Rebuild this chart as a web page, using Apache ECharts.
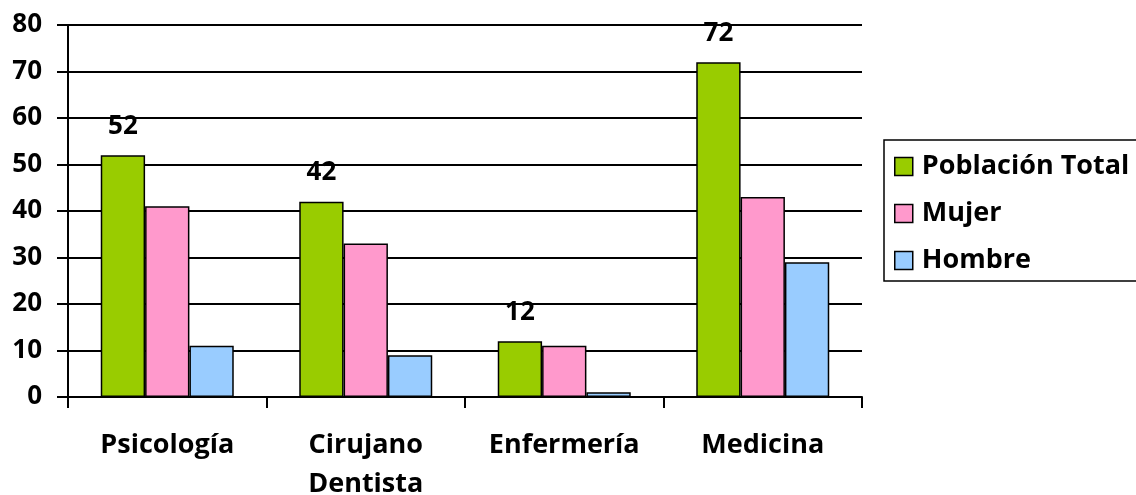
<!DOCTYPE html>
<html>
<head>
<meta charset="utf-8">
<script src="https://cdn.jsdelivr.net/npm/echarts@6/dist/echarts.min.js"></script>
<style>
  html, body { margin: 0; padding: 0; background: #fff; }
  #chart { width: 1136px; height: 495px; }
</style>
</head>
<body>
<div id="chart"></div>
<script>
// Career groups and head counts
const categories = ['Psicología', 'Cirujano\nDentista', 'Enfermería', 'Medicina'];
const seriesNames = ['Población Total', 'Mujer', 'Hombre'];
const totalValues = [52, 42, 12, 72];
const mujerValues = [41, 33, 11, 43];
const hombreValues = [11, 9, 1, 29];
const yTicks = { min: 0, max: 80, interval: 10 };

const FONT = '"Open Sans", "Noto Sans", sans-serif';
const FS_NUM = 26;
const FS_TEXT = 27;
const colors = ['#99CC00', '#FF99CC', '#99CCFF'];

function barSeries(name, data, color, withLabel) {
  return {
    name: name,
    type: 'bar',
    data: data,
    barGap: '0%',
    barCategoryGap: '33%',
    itemStyle: { color: color, borderColor: '#000', borderWidth: 1.5 },
    label: withLabel ? {
      show: true,
      position: 'top',
      distance: 16,
      color: '#000',
      fontFamily: FONT,
      fontWeight: 'bold',
      fontSize: FS_NUM
    } : { show: false },
    emphasis: { disabled: true },
    animation: false
  };
}

const chart = echarts.init(document.getElementById('chart'), null, { renderer: 'canvas' });
chart.setOption({
  backgroundColor: '#ffffff',
  animation: false,
  grid: { left: 68, right: 274, top: 25, bottom: 98, containLabel: false, outerBoundsMode: 'none' },
  legend: {
    orient: 'vertical',
    left: 884,
    top: 140,
    padding: [13, 30, 7, 10],
    borderColor: '#000',
    borderWidth: 1.5,
    itemWidth: 18,
    itemHeight: 18,
    itemGap: 20,
    icon: 'rect',
    data: seriesNames,
    itemStyle: { borderColor: '#000', borderWidth: 1.5 },
    textStyle: { color: '#000', fontFamily: FONT, fontWeight: 'bold', fontSize: FS_TEXT, padding: [0, 0, 0, 4] }
  },
  xAxis: {
    type: 'category',
    data: categories,
    boundaryGap: true,
    axisLine: { lineStyle: { color: '#000', width: 2 } },
    axisTick: { show: true, length: 11, lineStyle: { color: '#000', width: 2 } },
    axisLabel: {
      color: '#000',
      fontFamily: FONT,
      fontWeight: 'bold',
      fontSize: FS_TEXT,
      margin: 29,
      lineHeight: 39,
      interval: 0
    }
  },
  yAxis: {
    type: 'value',
    min: yTicks.min,
    max: yTicks.max,
    interval: yTicks.interval,
    axisLine: { show: true, lineStyle: { color: '#000', width: 2 } },
    axisTick: { show: true, length: 11, lineStyle: { color: '#000', width: 2 } },
    splitLine: { show: true, lineStyle: { color: '#000', width: 2 } },
    axisLabel: {
      color: '#000',
      fontFamily: FONT,
      fontWeight: 'bold',
      fontSize: FS_NUM,
      margin: 26
    }
  },
  series: [
    barSeries(seriesNames[0], totalValues, colors[0], true),
    barSeries(seriesNames[1], mujerValues, colors[1], false),
    barSeries(seriesNames[2], hombreValues, colors[2], false)
  ]
});
</script>
</body>
</html>
